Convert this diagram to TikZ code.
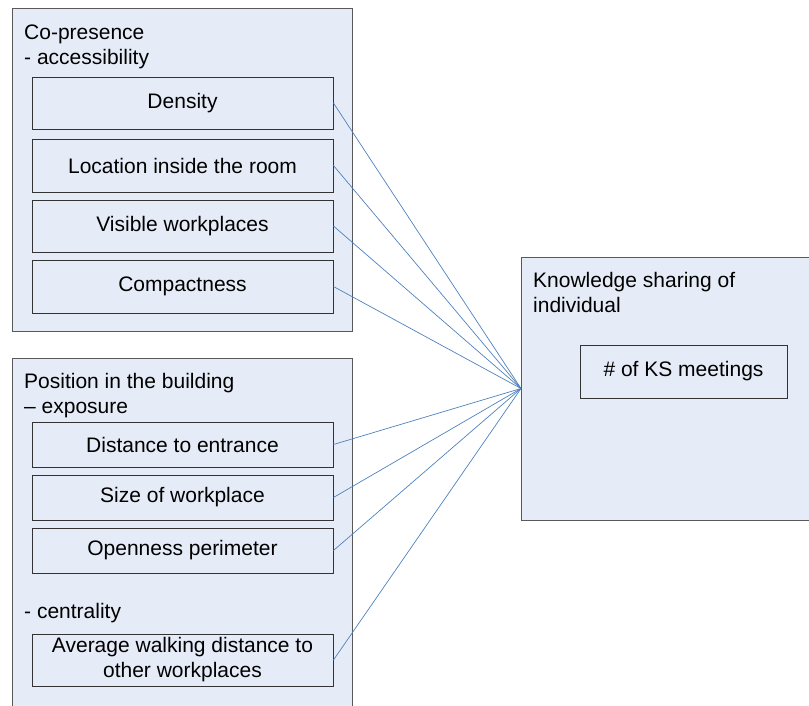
\documentclass[tikz,border=0pt]{standalone}
\usepackage{fontspec}
\setmainfont{Liberation Sans}
\definecolor{boxfill}{HTML}{E6ECF7}
\definecolor{outerline}{HTML}{595959}
\definecolor{innerline}{HTML}{333333}
\definecolor{linkblue}{HTML}{4F81BD}
\begin{document}
\begin{tikzpicture}[x=1pt,y=-1pt,
  outerbox/.style={draw=outerline,fill=boxfill,line width=0.9pt},
  innerbox/.style={draw=innerline,fill=boxfill,line width=0.9pt,minimum width=301pt,inner sep=0pt,align=center,font=\fontsize{21}{25}\selectfont},
  grouptext/.style={anchor=base west,inner sep=0pt,align=left,font=\fontsize{21}{25}\selectfont},
  link/.style={draw=linkblue,line width=0.7pt}]
\useasboundingbox (0,0) rectangle (809,705);
\clip (0,0) rectangle (809,705);
% outer groups
\path[outerbox] (12,8) rectangle (352,331);
\path[outerbox] (12,358) rectangle (352,720);
\path[outerbox] (521,257) rectangle (830,520);
% group titles (base anchor = last line's baseline)
\node[grouptext] (t1) at (24,64) {Co-presence\\- accessibility};
\node[grouptext] (t2) at (24,413) {Position in the building\\– exposure};
\node[grouptext] (t3) at (24,618) {- centrality};
\node[grouptext] (t4) at (533,312) {Knowledge sharing of\\individual};
% inner boxes
\node[innerbox,minimum height=52pt] (density) at (182.5,103) {Density};
\node[innerbox,minimum height=53pt] (location) at (182.5,165.5) {Location inside the room};
\node[innerbox,minimum height=52pt] (visible) at (182.5,226) {Visible workplaces};
\node[innerbox,minimum height=53pt] (compact) at (182.5,286.5) {Compactness};
\node[innerbox,minimum height=45pt] (distance) at (182.5,444.5) {Distance to entrance};
\node[innerbox,minimum height=45pt] (size) at (182.5,497.5) {Size of workplace};
\node[innerbox,minimum height=45pt] (open) at (182.5,550.5) {Openness perimeter};
\node[innerbox,minimum height=52pt] (avg) at (182.5,660) {Average walking distance to\\other workplaces};
\node[innerbox,minimum width=207pt,minimum height=53pt] (ks) at (683.5,371.5) {\# of KS meetings};
\coordinate (hub) at (521,388.5);
% links
\foreach \n in {density,location,visible,compact,distance,size,open,avg}
  \draw[link] (\n.east) -- (hub);
\end{tikzpicture}
\end{document}
